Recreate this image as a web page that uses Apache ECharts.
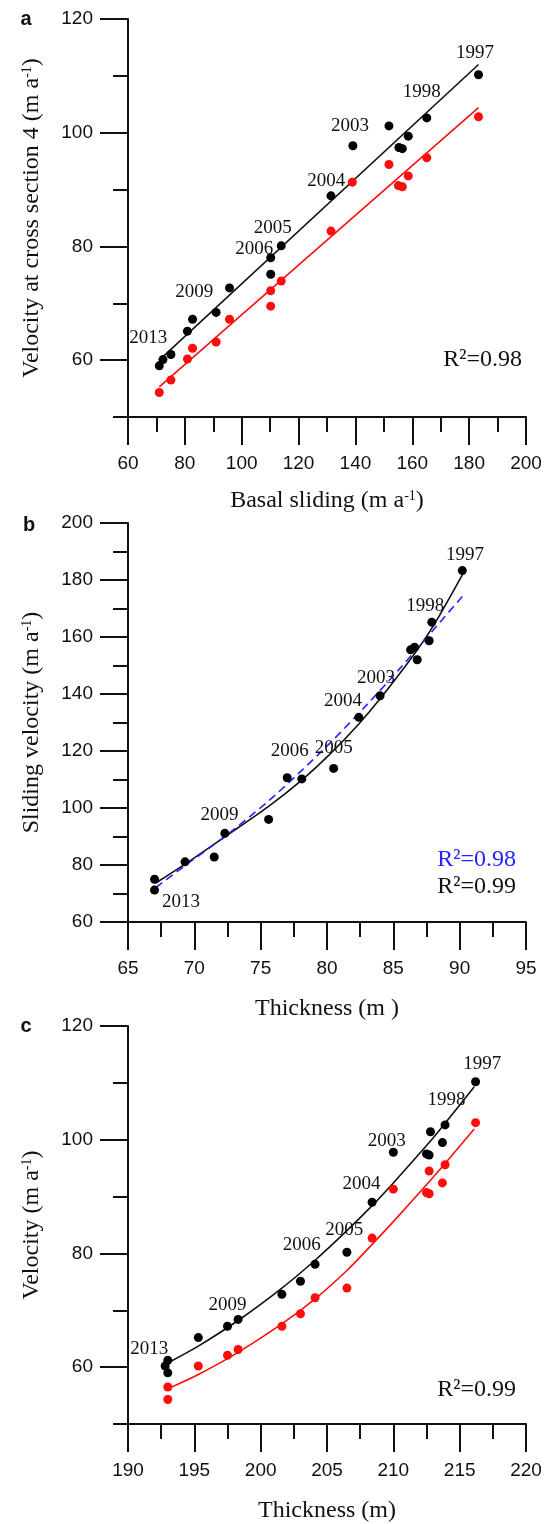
<!DOCTYPE html>
<html>
<head>
<meta charset="utf-8">
<title>Velocity, basal sliding and thickness</title>
<script src="https://cdn.jsdelivr.net/npm/echarts@6.0.0/dist/echarts.min.js"></script>
<style>
    html, body { margin: 0; padding: 0; background: #fff; }
    #chart { width: 547px; height: 1524px; }
</style>
</head>
<body>
<div id="chart"></div>
<script>
// ---- panel a: velocity at cross section 4 vs basal sliding ----
var aSlideBlack = [71.0, 72.3, 75.1, 80.9, 82.7, 91.0, 95.7, 110.2, 113.9, 110.2, 131.4, 139.1, 151.8, 155.3, 156.5, 158.6, 165.1, 183.3];
var aVelBlack = [59.0, 60.1, 61.0, 65.1, 67.2, 68.4, 72.7, 78.0, 80.1, 75.1, 88.9, 97.7, 101.2, 97.4, 97.2, 99.4, 102.6, 110.2];
var aSlideRed = [71.0, 75.1, 80.9, 82.7, 91.0, 95.7, 110.2, 113.9, 110.2, 131.4, 138.9, 151.8, 155.1, 156.5, 158.6, 165.1, 183.3];
var aVelRed = [54.3, 56.5, 60.2, 62.1, 63.2, 67.2, 72.2, 73.9, 69.5, 82.7, 91.3, 94.4, 90.7, 90.5, 92.4, 95.6, 102.8];
var aFitX = [71.0, 183.3];
var aFitBlack = [60.0, 112.0];
var aFitRed = [55.3, 104.4];
var aYears = ['1997', '1998', '2003', '2004', '2005', '2006', '2009', '2013'];
var aYearX = [182.1, 163.3, 138.1, 129.7, 110.9, 104.4, 83.3, 67.1];
var aYearY = [114.0, 107.2, 101.1, 91.5, 83.2, 79.5, 71.9, 63.9];
var aXMajor = [60, 80, 100, 120, 140, 160, 180, 200];
var aXMinor = [70, 90, 110, 130, 150, 170, 190];
var aYMajor = [60, 80, 100, 120];
var aYMinor = [50, 70, 90, 110];

// ---- panel b: sliding velocity vs thickness ----
var bThick = [67.0, 67.0, 69.3, 71.5, 72.3, 75.6, 77.0, 78.1, 80.5, 82.4, 84.0, 86.3, 86.6, 86.8, 87.7, 87.9, 90.2];
var bSlide = [75.0, 71.2, 81.1, 82.8, 91.1, 96.0, 110.6, 110.2, 113.9, 131.8, 139.4, 155.5, 156.4, 152.0, 158.7, 165.2, 183.3];
var bCurveX = [67.1, 69.3, 72.3, 75.6, 78.1, 80.2, 82.4, 84.0, 86.5, 88.0, 90.2];
var bCurveY = [73.7, 80.3, 89.9, 100.6, 109.8, 118.8, 129.5, 138.3, 153.5, 163.8, 181.8];
var bDashX = [67.1, 69.3, 72.3, 75.6, 78.1, 80.4, 83.0, 85.5, 88.0, 90.2];
var bDashY = [72.1, 79.8, 90.0, 102.5, 113.2, 123.6, 136.2, 149.0, 162.4, 174.2];
var bYears = ['1997', '1998', '2003', '2004', '2005', '2006', '2009', '2013'];
var bYearX = [90.4, 87.4, 83.7, 81.2, 80.5, 77.2, 71.9, 69.0];
var bYearY = [188.9, 170.7, 145.5, 137.7, 120.9, 120.0, 97.5, 67.0];
var bXMajor = [65, 70, 75, 80, 85, 90, 95];
var bXMinor = [67.5, 72.5, 77.5, 82.5, 87.5, 92.5];
var bYMajor = [60, 80, 100, 120, 140, 160, 180, 200];
var bYMinor = [70, 90, 110, 130, 150, 170, 190];

// ---- panel c: velocity vs thickness ----
var cThickBlack = [193.0, 192.8, 193.0, 195.3, 197.5, 198.3, 201.6, 203.0, 204.1, 206.5, 208.4, 210.0, 212.5, 212.7, 212.8, 213.7, 213.9, 216.2];
var cVelBlack = [61.2, 60.2, 59.0, 65.2, 67.2, 68.4, 72.8, 75.1, 78.1, 80.2, 89.0, 97.8, 97.5, 97.3, 101.4, 99.5, 102.6, 110.2];
var cThickRed = [193.0, 193.0, 195.3, 197.5, 198.3, 201.6, 203.0, 204.1, 206.5, 208.4, 210.0, 212.5, 212.7, 212.7, 213.7, 213.9, 216.2];
var cVelRed = [56.5, 54.3, 60.2, 62.1, 63.1, 67.2, 69.4, 72.2, 73.9, 82.7, 91.3, 90.7, 90.5, 94.5, 92.4, 95.6, 103.0];
var cCurveX = [193.2, 195.3, 198.3, 201.6, 204.1, 206.5, 208.4, 210.0, 212.7, 213.9, 216.1];
var cCurveBlackY = [61.0, 63.7, 68.2, 73.9, 78.8, 84.0, 88.4, 92.4, 99.5, 102.9, 109.3];
var cCurveRedY = [56.4, 58.7, 62.6, 67.6, 72.0, 77.0, 81.6, 85.6, 92.6, 95.8, 101.9];
var cYears = ['1997', '1998', '2003', '2004', '2005', '2006', '2009', '2013'];
var cYearX = [216.7, 214.0, 209.5, 207.6, 206.3, 203.1, 197.5, 191.6];
var cYearY = [113.4, 107.0, 99.8, 92.2, 84.1, 81.4, 71.0, 63.2];
var cXMajor = [190, 195, 200, 205, 210, 215, 220];
var cXMinor = [192.5, 197.5, 202.5, 207.5, 212.5, 217.5];
var cYMajor = [60, 80, 100, 120];
var cYMinor = [50, 70, 90, 110];

var SERIF = '"Liberation Serif", "Times New Roman", serif';
var SANS = '"Liberation Sans", Arial, sans-serif';
var INK = '#111';
var RED = '#ff0d0d';
var BLUE = '#2323ff';

function pairs(xs, ys) {
    return xs.map(function (x, i) { return [x, ys[i]]; });
}

function yearData(names, xs, ys) {
    return names.map(function (n, i) { return {name: n, value: [xs[i], ys[i]]}; });
}

// main axis carries long ticks + labels, the second one only the short ticks
function axisPair(dim, grid, min, max, major, minor, name, gap) {
    var pos = dim === 'x' ? 'bottom' : 'left';
    var main = {
        type: 'value', gridIndex: grid, position: pos, min: min, max: max,
        name: name, nameLocation: 'middle', nameGap: gap,
        nameTextStyle: {
            fontFamily: SERIF, fontSize: 24, color: INK,
            rich: {sup: {fontFamily: SERIF, fontSize: 14, color: INK, verticalAlign: 'top', padding: [0, 0, 8, 0]}}
        },
        axisLine: {show: true, onZero: false, lineStyle: {color: INK, width: 2}},
        axisTick: {show: true, inside: false, length: 28, customValues: major, lineStyle: {color: INK, width: 2}},
        axisLabel: {customValues: major, margin: dim === 'x' ? 37 : 35, fontFamily: SANS, fontSize: 19, color: INK},
        splitLine: {show: false}
    };
    var sub = {
        type: 'value', gridIndex: grid, position: pos, min: min, max: max,
        axisLine: {show: false, onZero: false},
        axisTick: {show: true, inside: false, length: 15, customValues: minor, lineStyle: {color: INK, width: 2}},
        axisLabel: {show: false},
        splitLine: {show: false}
    };
    return [main, sub];
}

function dots(idx, data, color) {
    return {
        type: 'scatter', xAxisIndex: idx, yAxisIndex: idx, symbolSize: 9,
        itemStyle: {color: color, opacity: 1}, data: data, z: 3
    };
}

function fit(idx, data, color, dashed) {
    return {
        type: 'line', xAxisIndex: idx, yAxisIndex: idx, symbol: 'none', smooth: 0.3,
        lineStyle: {color: color, width: 1.6, type: dashed ? [8, 5] : 'solid'},
        data: data, z: 2
    };
}

function yearLabels(idx, data) {
    return {
        type: 'scatter', xAxisIndex: idx, yAxisIndex: idx, symbolSize: 0, silent: true,
        itemStyle: {color: 'transparent', opacity: 1},
        label: {show: true, position: 'inside', formatter: '{b}', fontFamily: SERIF, fontSize: 19, color: INK, opacity: 1},
        data: data, z: 4
    };
}

function txt(x, y, s, font, color, align) {
    return {
        type: 'text', x: x, y: y,
        style: {text: s, font: font, fill: color, align: align, textAlign: align,
            verticalAlign: 'middle', textVerticalAlign: 'middle'}
    };
}

var xAxes = [].concat(
    axisPair('x', 0, 60, 200, aXMajor, aXMinor, 'Basal sliding (m a{sup|-1})', 72),
    axisPair('x', 1, 65, 95, bXMajor, bXMinor, 'Thickness (m )', 75),
    axisPair('x', 2, 190, 220, cXMajor, cXMinor, 'Thickness (m)', 75)
);
var yAxes = [].concat(
    axisPair('y', 0, 50, 120, aYMajor, aYMinor, 'Velocity at cross section 4 (m a{sup|-1})', 84),
    axisPair('y', 1, 60, 200, bYMajor, bYMinor, 'Sliding velocity (m a{sup|-1})', 84),
    axisPair('y', 2, 50, 120, cYMajor, cYMinor, 'Velocity (m a{sup|-1})', 84)
);

var myChart = echarts.init(document.getElementById('chart'), null, {renderer: 'canvas'});
myChart.setOption({
    animation: false,
    backgroundColor: '#fff',
    grid: [
        {left: 128, right: 21, top: 19, height: 398},
        {left: 128, right: 21, top: 523, height: 399},
        {left: 128, right: 21, top: 1026, height: 398}
    ],
    xAxis: xAxes,
    yAxis: yAxes,
    series: [
        // a
        fit(0, pairs(aFitX, aFitBlack), INK),
        fit(0, pairs(aFitX, aFitRed), RED),
        dots(0, pairs(aSlideBlack, aVelBlack), '#000'),
        dots(0, pairs(aSlideRed, aVelRed), RED),
        yearLabels(0, yearData(aYears, aYearX, aYearY)),
        // b
        fit(2, pairs(bCurveX, bCurveY), INK),
        fit(2, pairs(bDashX, bDashY), BLUE, true),
        dots(2, pairs(bThick, bSlide), '#000'),
        yearLabels(2, yearData(bYears, bYearX, bYearY)),
        // c
        fit(4, pairs(cCurveX, cCurveBlackY), INK),
        fit(4, pairs(cCurveX, cCurveRedY), RED),
        dots(4, pairs(cThickBlack, cVelBlack), '#000'),
        dots(4, pairs(cThickRed, cVelRed), RED),
        yearLabels(4, yearData(cYears, cYearX, cYearY))
    ],
    graphic: [
        txt(26, 19, 'a', 'bold 20px ' + SANS, INK, 'center'),
        txt(29, 525, 'b', 'bold 20px ' + SANS, INK, 'center'),
        txt(26, 1026, 'c', 'bold 20px ' + SANS, INK, 'center'),
        txt(522, 360, 'R\u00b2=0.98', '24px ' + SERIF, INK, 'right'),
        txt(516, 860, 'R\u00b2=0.98', '24px ' + SERIF, BLUE, 'right'),
        txt(516, 887, 'R\u00b2=0.99', '24px ' + SERIF, INK, 'right'),
        txt(516, 1390, 'R\u00b2=0.99', '24px ' + SERIF, INK, 'right')
    ]
});
</script>
</body>
</html>
